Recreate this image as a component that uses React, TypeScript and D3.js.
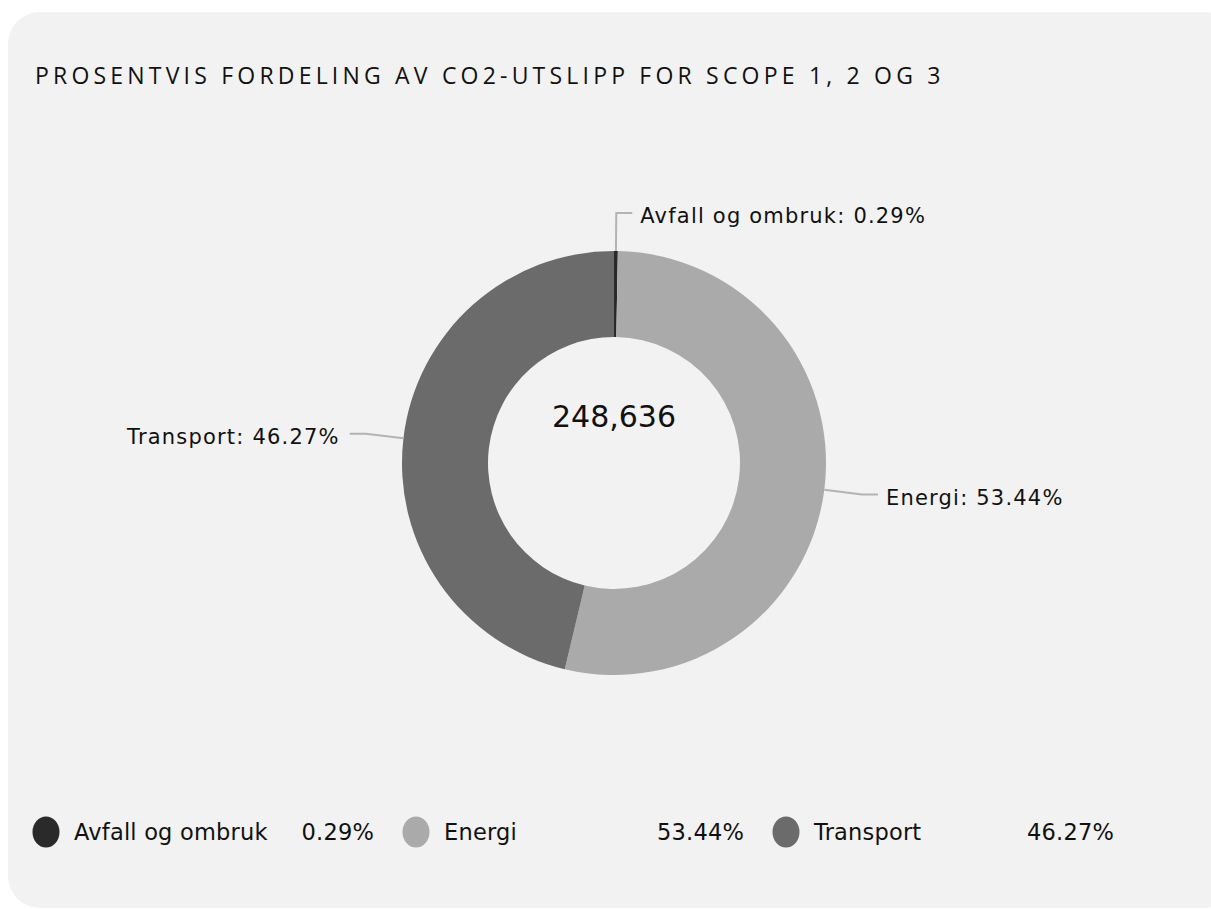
import { useMemo } from "react";
import * as d3 from "d3";

const categories = ["Avfall og ombruk", "Energi", "Transport"];
const shares = [0.29, 53.44, 46.27];
const colors = ["#2a2a2a", "#aaaaaa", "#6b6b6b"];
const totalLabel = "248,636";
const title = "PROSENTVIS FORDELING AV CO2-UTSLIPP FOR SCOPE 1, 2 OG 3";

const W = 1211;
const H = 909;
const FONT = "'DejaVu Sans', Verdana, sans-serif";

export default function App() {
  const cx = 614;
  const cy = 463;
  const outer = 212;
  const inner = 126;

  const slices = useMemo(() => {
    const pie = d3
      .pie<number>()
      .sort(null)
      .value((d) => d);
    return pie(shares);
  }, []);

  const arc = d3.arc<d3.PieArcDatum<number>>().innerRadius(inner).outerRadius(outer);

  const fmt = (v: number) => `${v.toFixed(2)}%`;

  return (
    <svg
      width={W}
      height={H}
      style={{ position: "fixed", left: 0, top: 0, display: "block", background: "#fff" }}
    >
      <rect x={8} y={12} width={1230} height={896} rx={32} fill="#f2f2f2" />
      <text
        x={35}
        y={84}
        fontFamily="'Open Sans', 'Noto Sans', sans-serif"
        fontSize={23}
        letterSpacing={4.2}
        fill="#111"
      >
        {title}
      </text>

      <g transform={`translate(${cx},${cy})`}>
        {slices.map((s, i) => (
          <path key={categories[i]} d={arc(s) || ""} fill={colors[i]} />
        ))}
        {slices.map((s, i) => {
          const a = (s.startAngle + s.endAngle) / 2;
          const sx = Math.sin(a);
          const sy = -Math.cos(a);
          const p0 = [sx * outer, sy * outer];
          const p1 = [sx * (outer + 38), sy * (outer + 38)];
          const right = sx >= 0;
          const p2 = [p1[0] + (right ? 16 : -16), p1[1]];
          const tx = p2[0] + (right ? 8 : -10);
          return (
            <g key={`lab-${i}`}>
              <polyline
                points={[p0, p1, p2].map((p) => p.join(",")).join(" ")}
                fill="none"
                stroke="#b3b3b3"
                strokeWidth={2}
              />
              <text
                x={tx}
                y={p2[1] + 3}
                dy="0.35em"
                textAnchor={right ? "start" : "end"}
                fontFamily={FONT}
                fontSize={21}
                letterSpacing={1.2}
                fill="#111"
              >
                {`${categories[i]}: ${fmt(shares[i])}`}
              </text>
            </g>
          );
        })}
        <text
          x={0}
          y={-36}
          textAnchor="middle"
          fontFamily={FONT}
          fontSize={30}
          fill="#111"
        >
          {totalLabel}
        </text>
      </g>

      <g fontFamily={FONT} fontSize={22.5} letterSpacing={0.2} fill="#111">
        {categories.map((c, i) => {
          const x = 46 + i * 370;
          return (
            <g key={`leg-${c}`}>
              <ellipse cx={x} cy={832} rx={13.5} ry={15.5} fill={colors[i]} />
              <text x={x + 28} y={840}>
                {c}
              </text>
              <text x={x + 328} y={840} textAnchor="end">
                {fmt(shares[i])}
              </text>
            </g>
          );
        })}
      </g>
    </svg>
  );
}
